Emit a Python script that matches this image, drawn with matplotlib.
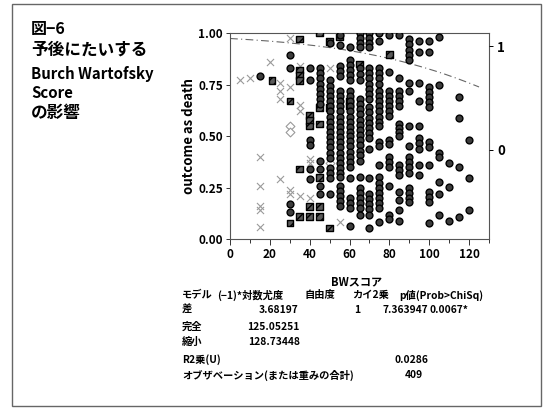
import numpy as np
import matplotlib
matplotlib.use("Agg")
import matplotlib.pyplot as plt
from matplotlib.patches import Rectangle

plt.rcParams['font.family'] = ['Noto Sans CJK JP', 'DejaVu Sans']
plt.rcParams['font.weight'] = 'bold'

# ---------------- data ----------------
circles = {
    15: [0.79],
    30: [0.895, 0.83, 0.17, 0.13],
    40: [0.83, 0.77, 0.48, 0.455, 0.34, 0.29],
    45: [0.83, 0.805, 0.78, 0.755, 0.73, 0.705, 0.68, 0.655, 0.38, 0.34, 0.26, 0.22],
    50: [0.95, 0.77, 0.745, 0.72, 0.695, 0.67, 0.645, 0.62, 0.595, 0.57, 0.545, 0.52,
         0.495, 0.47, 0.445, 0.42, 0.395, 0.345, 0.32, 0.295, 0.22],
    55: [0.99, 0.94, 0.84, 0.815, 0.79, 0.72, 0.695, 0.67, 0.645, 0.62, 0.595, 0.57,
         0.545, 0.52, 0.495, 0.47, 0.445, 0.42, 0.395, 0.37, 0.345, 0.32, 0.30, 0.26,
         0.235, 0.21, 0.185, 0.16],
    60: [0.93, 0.87, 0.845, 0.82, 0.795, 0.77, 0.72, 0.695, 0.67, 0.645, 0.62, 0.595,
         0.57, 0.545, 0.52, 0.50, 0.475, 0.45, 0.425, 0.40, 0.375, 0.35, 0.295, 0.20,
         0.175, 0.15, 0.065],
    65: [1.0, 0.975, 0.95, 0.93, 0.83, 0.80, 0.77, 0.68, 0.655, 0.63, 0.605, 0.58,
         0.555, 0.53, 0.505, 0.48, 0.455, 0.43, 0.41, 0.38, 0.30, 0.25, 0.225, 0.20,
         0.175, 0.15, 0.12],
    70: [1.0, 0.975, 0.95, 0.93, 0.83, 0.805, 0.78, 0.755, 0.73, 0.705, 0.68, 0.64,
         0.615, 0.59, 0.565, 0.54, 0.515, 0.49, 0.44, 0.295, 0.22, 0.195, 0.17, 0.145,
         0.12, 0.055],
    75: [1.0, 0.96, 0.83, 0.805, 0.78, 0.755, 0.72, 0.695, 0.67, 0.645, 0.62, 0.595,
         0.57, 0.55, 0.47, 0.45, 0.36, 0.30, 0.275, 0.25, 0.225, 0.20, 0.175, 0.15, 0.085],
    80: [0.99, 0.81, 0.72, 0.695, 0.67, 0.645, 0.62, 0.60, 0.48, 0.46, 0.40, 0.375,
         0.35, 0.26, 0.12, 0.10],
    85: [0.99, 0.78, 0.72, 0.695, 0.67, 0.645, 0.56, 0.54, 0.52, 0.50, 0.36, 0.335,
         0.31, 0.23, 0.19, 0.14, 0.09],
    90: [0.97, 0.945, 0.92, 0.895, 0.87, 0.76, 0.72, 0.55, 0.45, 0.40, 0.375, 0.35,
         0.32, 0.25, 0.225, 0.20, 0.18],
    95: [0.96, 0.91, 0.76, 0.67, 0.55, 0.49, 0.465, 0.44, 0.36, 0.31],
    100: [0.96, 0.91, 0.74, 0.715, 0.69, 0.665, 0.64, 0.47, 0.445, 0.36, 0.23, 0.205,
          0.18, 0.08],
    105: [0.98, 0.75, 0.42, 0.40, 0.28, 0.22, 0.12],
    110: [0.37, 0.255, 0.09],
    115: [0.69, 0.59, 0.35, 0.11],
    120: [0.48, 0.295, 0.14],
}
squares = {
    21: [0.77],
    30: [0.67, 0.08],
    35: [0.97, 0.82, 0.795, 0.77, 0.34, 0.11],
    40: [0.60, 0.575, 0.55, 0.16, 0.11],
    45: [1.0, 0.64, 0.56, 0.30, 0.16, 0.11],
    50: [0.96, 0.64, 0.055],
    55: [0.98],
    60: [0.67, 0.645],
    65: [0.85],
    80: [0.895],
}
crosses = {
    5: [0.77],
    10: [0.78],
    15: [0.40, 0.26, 0.16, 0.14, 0.06],
    20: [0.86],
    25: [0.76, 0.72, 0.68, 0.29],
    30: [0.976, 0.74, 0.24, 0.22],
    35: [0.84, 0.65, 0.62, 0.21],
    40: [0.39, 0.37, 0.20],
    50: [0.83],
    55: [0.085],
}
diamonds = {
    30: [0.55, 0.52],
    50: [0.37],
}
# fitted logistic model: P(level 0) = 1/(1+exp(-(b0 + b1*x)))
b0, b1 = 3.6, -0.0205
level_labels = ['0', '1']
level_pos = [0.435, 0.935]

title_lines = ['図−6', '予後にたいする', 'Burch Wartofsky', 'Score', 'の影響']
title_sizes = [11.5, 12, 10.8, 10.8, 12]


def flat(d):
    xs, ys = [], []
    for k, vals in d.items():
        for v in vals:
            xs.append(k)
            ys.append(v)
    return xs, ys


W, H = 547, 408
fig = plt.figure(figsize=(W / 100, H / 100), dpi=100)


def fx(px):
    return px / W


def fy(py):
    return 1 - py / H


ax = fig.add_axes([fx(230), fy(239.3), fx(489) - fx(230), fy(33) - fy(239.3)])
ax.set_xlim(0, 130)
ax.set_ylim(0, 1)

# curve
xc = np.linspace(0, 125, 200)
yc = 1 / (1 + np.exp(-(b0 + b1 * xc)))
ax.plot(xc, yc, color='#666666', lw=0.8, ls=(0, (7, 3, 1, 3)), zorder=2)

x, y = flat(crosses)
ax.scatter(x, y, marker='x', s=26, color='#9a9a9a', linewidths=0.8, zorder=3)
x, y = flat(diamonds)
ax.scatter(x, y, marker='D', s=20, facecolor='white', edgecolor='#9a9a9a', linewidths=0.8, zorder=3)
x, y = flat(squares)
ax.scatter(x, y, marker='s', s=22, facecolor='#5a5a5a', edgecolor='black', linewidths=1.0,
           hatch='////', zorder=4)
x, y = flat(circles)
ax.scatter(x, y, marker='o', s=24, facecolor='#3c3c3c', edgecolor='black', linewidths=1.0, zorder=5)

for sp in ax.spines.values():
    sp.set_color('#555555')
    sp.set_linewidth(0.8)

ax.set_xticks(np.arange(0, 131, 10), minor=True)
ax.set_xticks(np.arange(0, 121, 20))
ax.set_xticklabels([str(v) for v in range(0, 121, 20)], fontsize=8.5, fontweight='bold')
ax.set_yticks([0, 0.25, 0.5, 0.75, 1.0])
ax.set_yticklabels(['0.00', '0.25', '0.50', '0.75', '1.00'], fontsize=8.5, fontweight='bold')
ax.tick_params(axis='both', which='both', direction='out', length=3, width=0.7, color='#333333', pad=2)
ax.tick_params(axis='x', which='major', length=4)
ax.set_ylabel('outcome as death', fontsize=9.5, fontweight='bold', labelpad=2)

fig.text(fx(357), fy(282), 'BWスコア', fontsize=8, fontweight='bold', ha='center', va='center')

ax2 = ax.twinx()
ax2.set_ylim(0, 1)
ax2.set_yticks(level_pos)
ax2.set_yticklabels(level_labels, fontsize=9.5, fontweight='bold')
ax2.tick_params(axis='y', direction='out', length=3, width=0.7, pad=3)
for sp in ax2.spines.values():
    sp.set_visible(False)

# title block
for line, py, fs in zip(title_lines, [29, 50, 74, 93, 113], title_sizes):
    fig.text(fx(31), fy(py), line, fontsize=fs, fontweight='bold', va='center', ha='left')

# statistics table
tfs = 7.4
row_y = [295, 310, 327, 342, 360, 375]
header = [('モデル', 182), ('(−1)*対数尤度', 217), ('自由度', 305),
          ('カイ2乗', 352), ('p値(Prob>ChiSq)', 399)]
for txt, px in header:
    fig.text(fx(px), fy(row_y[0]), txt, fontsize=tfs, fontweight='bold', va='center', ha='left')
fig.text(fx(182), fy(row_y[1]), '差', fontsize=tfs, fontweight='bold', va='center')
fig.text(fx(298), fy(row_y[1]), '3.68197', fontsize=tfs, fontweight='bold', va='center', ha='right')
fig.text(fx(360), fy(row_y[1]), '1', fontsize=tfs, fontweight='bold', va='center', ha='right')
fig.text(fx(428), fy(row_y[1]), '7.363947', fontsize=tfs, fontweight='bold', va='center', ha='right')
fig.text(fx(468), fy(row_y[1]), '0.0067*', fontsize=tfs, fontweight='bold', va='center', ha='right')
fig.text(fx(182), fy(row_y[2]), '完全', fontsize=tfs, fontweight='bold', va='center')
fig.text(fx(300), fy(row_y[2]), '125.05251', fontsize=tfs, fontweight='bold', va='center', ha='right')
fig.text(fx(182), fy(row_y[3]), '縮小', fontsize=tfs, fontweight='bold', va='center')
fig.text(fx(300), fy(row_y[3]), '128.73448', fontsize=tfs, fontweight='bold', va='center', ha='right')
fig.text(fx(182), fy(row_y[4]), 'R2乗(U)', fontsize=tfs, fontweight='bold', va='center')
fig.text(fx(428), fy(row_y[4]), '0.0286', fontsize=tfs, fontweight='bold', va='center', ha='right')
fig.text(fx(182), fy(row_y[5]), 'オブザベーション(または重みの合計)', fontsize=tfs, fontweight='bold', va='center')
fig.text(fx(423), fy(row_y[5]), '409', fontsize=tfs, fontweight='bold', va='center', ha='right')

# outer frame
fig.patches.append(Rectangle((fx(12), fy(406)), fx(541) - fx(12), fy(4) - fy(406),
                             transform=fig.transFigure, fill=False, edgecolor='#666666', lw=1.0))

fig.savefig('out.png', dpi=100)
